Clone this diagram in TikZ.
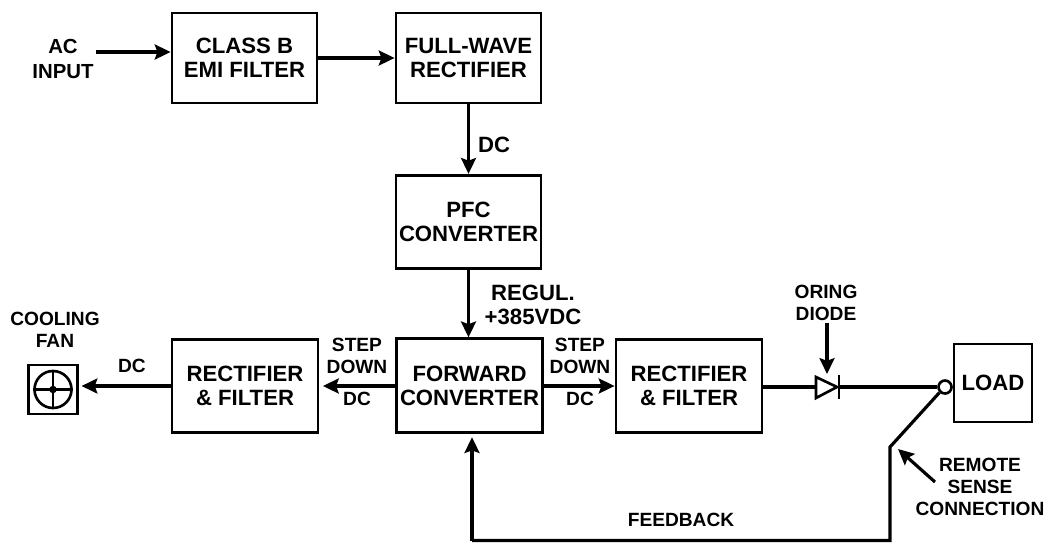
\documentclass[tikz,border=0pt]{standalone}
\usepackage{fontspec}
\setmainfont{Liberation Sans}
\usetikzlibrary{arrows.meta, positioning, calc}
\tikzset{
  block/.style={rectangle, draw=black, fill=white, align=center, inner sep=0pt,
    font=\fontsize{12.6}{13.6}\selectfont\bfseries, line width=1.6pt},
  arrow/.style={-{Stealth[inset=1.5pt, length=9pt, width=8.5pt]}, line width=1.8pt},
  line/.style={line width=1.8pt},
  thinline/.style={line width=1.5pt},
  label/.style={align=center, inner sep=0pt, font=\fontsize{12.6}{14}\selectfont\bfseries},
  smalllabel/.style={align=center, inner sep=0pt, font=\fontsize{10.9}{12.6}\selectfont\bfseries}
}
\begin{document}
\begin{tikzpicture}[x=0.02cm, y=-0.02cm]
  \useasboundingbox (0,0) rectangle (1048,542);
  % Top row
  \node[block, minimum width=2.9cm, minimum height=1.8cm] (emi) at (244.5,58) {CLASS B\\EMI FILTER};
  \node[block, minimum width=2.9cm, minimum height=1.8cm] (fwr) at (468.5,58) {FULL-WAVE\\RECTIFIER};
  \node[block, minimum width=2.9cm, minimum height=1.87cm] (pfc) at (468.5,222) {PFC\\CONVERTER};

  % Middle row
  \node[block, minimum width=2.92cm, minimum height=1.87cm] (fwd) at (469.5,385.5) {FORWARD\\CONVERTER};
  \node[block, minimum width=2.92cm, minimum height=1.87cm] (rleft) at (245,386) {RECTIFIER\\\& FILTER};
  \node[block, minimum width=2.92cm, minimum height=1.87cm] (rright) at (689,386) {RECTIFIER\\\& FILTER};
  \node[block, minimum width=1.56cm, minimum height=1.56cm] (load) at (993,383) {LOAD};
  \node[draw=black, line width=1.6pt, minimum size=0.98cm, inner sep=0pt] (fan) at (53,389.5) {};
  \node[circle, draw=black, line width=1.5pt, minimum size=0.74cm, inner sep=0pt] (rotor) at (53,389.5) {};
  \node[circle, fill=black, minimum size=0.15cm, inner sep=0pt] (hub) at (53,389.5) {};
  \draw[thinline] (rotor.north) -- (rotor.south);
  \draw[thinline] (rotor.west) -- (rotor.east);

  % Diode and sense point
  \coordinate (danode) at (816,387);
  \coordinate (dbar) at (839,387);
  \draw[thinline] (816,377) -- (837,387) -- (816,398) -- cycle;
  \draw[thinline] (839,375) -- (839,399);
  \node[circle, draw=black, fill=white, line width=1.5pt, minimum size=0.26cm, inner sep=0pt] (sense) at (945,387) {};
  \coordinate (bend) at (890,447);
  \coordinate (bottom) at (890,540.5);
  \coordinate (back) at (472,540.5);

  % Labels
  \node[label, font=\fontsize{11.6}{14}\selectfont\bfseries] (acin) at (63,59) {AC\\INPUT};
  \node[label] (dcone) at (494,145) {DC};
  \node[label] (regul) at (533,305) {REGUL.\\+385VDC};
  \node[smalllabel] (cool) at (55,330) {COOLING\\FAN};
  \node[smalllabel] (dcfan) at (132,366) {DC};
  \node[smalllabel] (stepl) at (357,356) {STEP\\DOWN};
  \node[smalllabel] (dcl) at (357,399) {DC};
  \node[smalllabel] (stepr) at (580,356) {STEP\\DOWN};
  \node[smalllabel] (dcr) at (580,399) {DC};
  \node[smalllabel] (oring) at (826,303) {ORING\\DIODE};
  \node[smalllabel] (remote) at (980,487) {REMOTE\\SENSE\\CONNECTION};
  \node[smalllabel] (feedback) at (681,520) {FEEDBACK};

  % Connections
  \coordinate (acstart) at (96,52);
  \draw[arrow] (acstart) -- (acstart -| emi.west);
  \draw[arrow] (emi) -- (fwr);
  \draw[arrow] (fwr) -- (pfc);
  \draw[arrow] (pfc) -- (pfc |- fwd.north);
  \draw[arrow, shorten >=2pt] (fwd.west |- rleft) -- (rleft.east);
  \draw[arrow] (fwd.east |- rright) -- (rright.west);
  \draw[arrow, shorten >=1.5pt] (rleft.west) -- (rleft.west -| fan.east);
  \draw[line] (rright.east |- danode) -- (danode);
  \draw[line] (dbar) -- (sense.west);
  \draw[line] (sense.south west) -- (bend) -- (bottom) -- (back);
  \draw[arrow, shorten >=2pt] (back) -- (back |- fwd.south);
  \coordinate (oringstart) at (827,323);
  \coordinate (oringtip) at (827,374);
  \draw[arrow] (oringstart) -- (oringtip);
  \coordinate (rstart) at (935,482);
  \coordinate (rtip) at (898,449);
  \draw[arrow] (rstart) -- (rtip);
\end{tikzpicture}
\end{document}
